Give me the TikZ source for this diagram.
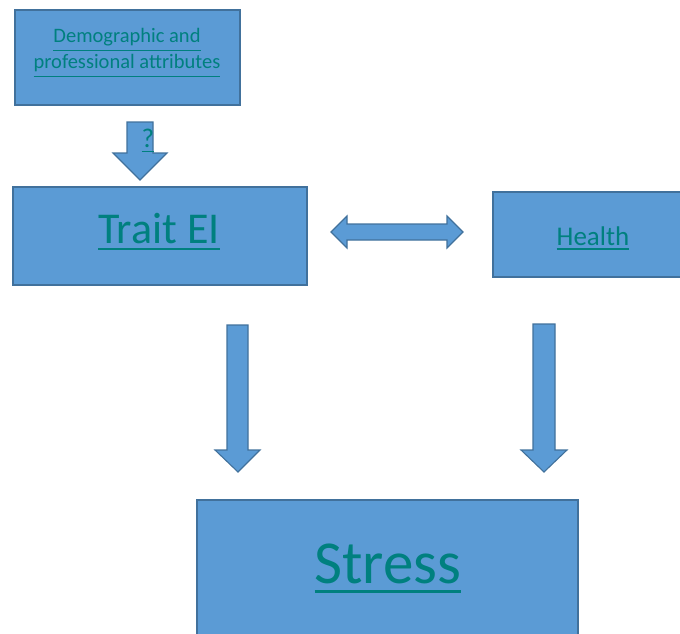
\documentclass[tikz,border=0pt]{standalone}
\usepackage{fontspec}
\setmainfont{Carlito}
\definecolor{boxfill}{HTML}{5B9BD5}
\definecolor{boxline}{HTML}{41719C}
\definecolor{linktext}{HTML}{00807F}
\newcommand\lnk[2][0.17em]{\setbox0\hbox{#2}\dimen0=#1\relax\rlap{\rule[-\dimen0]{\wd0}{0.055em}}\box0}
\tikzset{
  box/.style={draw=boxline, fill=boxfill, line width=1.3pt},
  blockarrow/.style={draw=boxline, fill=boxfill, line width=1.1pt, line join=miter},
  lbl/.style={text=linktext, anchor=base, inner sep=0pt, align=center}
}
\begin{document}
\begin{tikzpicture}[x=1pt,y=-1pt]
\useasboundingbox (0,0) rectangle (680,634);
% boxes
\path[box] (15,10) rectangle (240,105);
\path[box] (13,187) rectangle (307,285);
\path[box] (493,192) rectangle (682,277);
\path[box] (197,500) rectangle (578,636);
\node[lbl, font=\fontsize{20.5}{26}\selectfont] (demo) at (127,68.5) {\lnk[0.43em]{Demographic and}\\\lnk[0.43em]{professional attributes}};
\node[lbl, font=\fontsize{44}{50}\selectfont] (trait) at (159,243) {\lnk{Trait EI}};
\node[lbl, font=\fontsize{27}{32}\selectfont] (health) at (593,245) {\lnk{Health}};
\node[lbl, font=\fontsize{61}{70}\selectfont] (stress) at (388,583) {\lnk{Stress}};
% small arrow
\path[blockarrow] (127,122) -- (153,122) -- (153,153) -- (167,153) -- (140,180) -- (113,153) -- (127,153) -- cycle;
\node[lbl, font=\fontsize{27}{30}\selectfont] (q) at (148,147) {\lnk[0.2em]{?}};
% double arrow
\path[blockarrow] (331,232) -- (347,216) -- (347,224) -- (447,224) -- (447,216) -- (463,232) -- (447,248) -- (447,240) -- (347,240) -- (347,248) -- cycle;
% down arrows
\path[blockarrow] (227,325) -- (248,325) -- (248,450) -- (260,450) -- (238,472) -- (215,450) -- (227,450) -- cycle;
\path[blockarrow] (533,324) -- (555,324) -- (555,450) -- (567,450) -- (544,472) -- (521,450) -- (533,450) -- cycle;
\end{tikzpicture}
\end{document}
